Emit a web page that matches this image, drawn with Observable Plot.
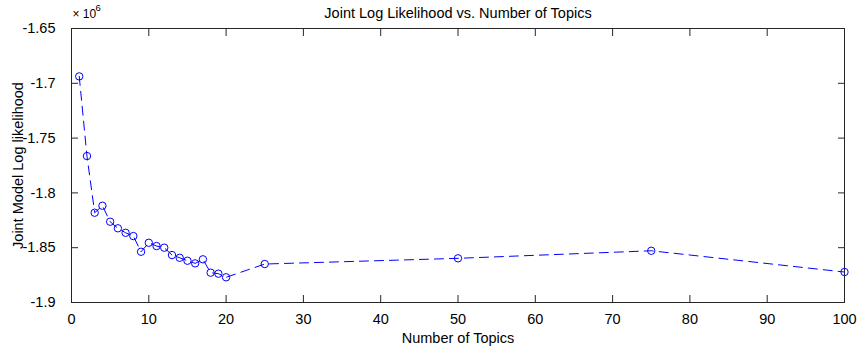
<!DOCTYPE html>
<html>
<head>
<meta charset="utf-8">
<script src="https://cdn.jsdelivr.net/npm/d3@7"></script>
<script src="https://cdn.jsdelivr.net/npm/@observablehq/plot@0.6"></script>
<style>
  html, body { margin: 0; padding: 0; background: #fff; }
  #chart { width: 857px; height: 354px; }
</style>
</head>
<body>
<div id="chart"></div>
<script>
// Number of topics (x) and joint model log likelihood (×10^6)
const topics = [1, 2, 3, 4, 5, 6, 7, 8, 9, 10, 11, 12, 13, 14, 15, 16, 17, 18, 19, 20, 25, 50, 75, 100];
const logLik = [-1.6937, -1.7664, -1.8181, -1.8117, -1.8263, -1.8323, -1.8364, -1.8394, -1.8537, -1.8455,
                -1.8485, -1.8500, -1.8567, -1.8592, -1.8619, -1.8643, -1.8606, -1.8728, -1.8737, -1.8770,
                -1.8649, -1.8597, -1.8528, -1.8722];
const xTicks = [0, 10, 20, 30, 40, 50, 60, 70, 80, 90, 100];
const yTicks = [-1.9, -1.85, -1.8, -1.75, -1.7, -1.65];
const yTickLabels = ["-1.9", "-1.85", "-1.8", "-1.75", "-1.7", "-1.65"];
const title = "Joint Log Likelihood vs. Number of Topics";
const xLabel = "Number of Topics";
const yLabel = "Joint Model Log likelihood";

const data = topics.map((t, i) => ({topics: t, ll: logLik[i]}));
const axisColor = "#262626";
const blue = "#0000ff";
const fs = 14.5;

const chart = Plot.plot({
  width: 857,
  height: 354,
  marginLeft: 71,
  marginRight: 13,
  marginTop: 28,
  marginBottom: 52,
  style: {fontFamily: "'Liberation Sans', Arial, Helvetica, sans-serif", fontSize: fs + "px", color: "#000", background: "#fff", overflow: "visible"},
  x: {domain: [0, 100], ticks: xTicks},
  y: {domain: [-1.9, -1.65], ticks: yTicks},
  marks: [
    Plot.frame({stroke: axisColor}),
    // inward ticks on all four sides
    Plot.axisX(xTicks, {anchor: "bottom", tickSize: 7, dy: -7, tickFormat: () => "", stroke: axisColor, label: null}),
    Plot.axisX(xTicks, {anchor: "top", tickSize: 7, dy: 7, tickFormat: () => "", stroke: axisColor, label: null}),
    Plot.axisY(yTicks, {anchor: "left", tickSize: 7, dx: 7, tickFormat: () => "", stroke: axisColor, label: null}),
    Plot.axisY(yTicks, {anchor: "right", tickSize: 7, dx: -7, tickFormat: () => "", stroke: axisColor, label: null}),
    // tick labels
    Plot.axisX(xTicks, {anchor: "bottom", tickSize: 0, tickPadding: 11, tickFormat: d => String(d), fill: "#000", fontSize: fs, label: null}),
    Plot.axisY(yTicks, {anchor: "left", tickSize: 0, tickPadding: 16, tickFormat: (d, i) => yTickLabels[i], fill: "#000", fontSize: fs, label: null}),
    // data
    Plot.line(data, {x: "topics", y: "ll", stroke: blue, strokeWidth: 1, strokeDasharray: "9,6"}),
    Plot.dot(data, {x: "topics", y: "ll", r: 3.7, stroke: blue, strokeWidth: 1, fill: "none"}),
    // texts
    Plot.text([title], {frameAnchor: "top", lineAnchor: "middle", dy: -15.5, fill: "#000", fontSize: fs}),
    Plot.text([xLabel], {frameAnchor: "bottom", textAnchor: "middle", lineAnchor: "middle", dy: 36, fill: "#000", fontSize: fs}),
    Plot.text([yLabel], {frameAnchor: "left", textAnchor: "middle", lineAnchor: "middle", dx: -53, rotate: -90, fill: "#000", fontSize: fs}),
    Plot.text(["× 10"], {frameAnchor: "top-left", textAnchor: "start", lineAnchor: "middle", dx: 1, dy: -14, fill: "#000", fontSize: 12}),
    Plot.text(["6"], {frameAnchor: "top-left", textAnchor: "start", lineAnchor: "middle", dx: 24, dy: -20.5, fill: "#000", fontSize: 9.5})
  ]
});
document.getElementById("chart").appendChild(chart);
</script>
</body>
</html>
